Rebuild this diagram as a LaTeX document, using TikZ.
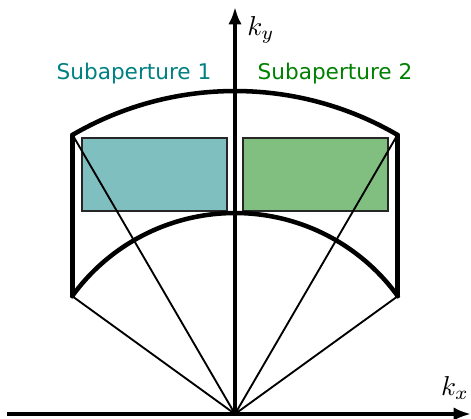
\documentclass[tikz,border=0pt]{standalone}
\usepackage{fontspec}
\setsansfont{DejaVu Sans}
\usetikzlibrary{arrows.meta, positioning}

\definecolor{subA}{HTML}{008080}
\definecolor{subB}{HTML}{008000}
\newcommand{\axlabel}[1]{\scalebox{2.05}{$#1$}}

\begin{document}
\begin{tikzpicture}[
    x=0.75pt, y=0.75pt,
    axis/.style={line width=2.7pt, -{Latex[length=13pt, width=10pt]}},
    band/.style={line width=3.4pt, line cap=round},
    ray/.style={line width=1.4pt},
    subap/.style={draw=black!85, line width=1.3pt},
    title/.style={font=\sffamily\fontsize{16.2}{19}\selectfont, inner sep=0pt},
    lbl/.style={inner sep=0pt}
]
\useasboundingbox (-235,-4) rectangle (236,414);

% origin and corners of the annular sector
\coordinate (O) at (0,0);
\coordinate (outL) at (120.2:323);
\coordinate (outR) at (59.8:323);
\coordinate (inL)  at (144.1:201);
\coordinate (inR)  at (35.9:201);

% subapertures
\draw[subap, fill=subA!50] (-153,203) rectangle (-8,276);
\draw[subap, fill=subB!50] (8,203) rectangle (153,276);

% rays
\draw[ray] (O) -- (outL);
\draw[ray] (O) -- (outR);
\draw[ray] (O) -- (inL);
\draw[ray] (O) -- (inR);

% sector
\draw[band] (outL) arc[start angle=120.2, end angle=59.8, radius=323];
\draw[band] (inL) arc[start angle=144.1, end angle=35.9, radius=201];
\draw[band] (outL) -- (outL |- inL);
\draw[band] (outR) -- (outR |- inR);

% axes
\coordinate (xs) at (-228,0);
\coordinate (xe) at (236,0);
\coordinate (ye) at (0,407);
\draw[axis] (xs) -- (xe);
\draw[axis] (O) -- (ye);

\node[lbl, anchor=west] (ky) at (12,384) {\axlabel{k_y}};
\node[lbl] (kx) at (220,26) {\axlabel{k_x}};
\node[title, text=subA] (t1) at (-101,340) {Subaperture 1};
\node[title, text=subB] (t2) at (100,340) {Subaperture 2};

\end{tikzpicture}
\end{document}
